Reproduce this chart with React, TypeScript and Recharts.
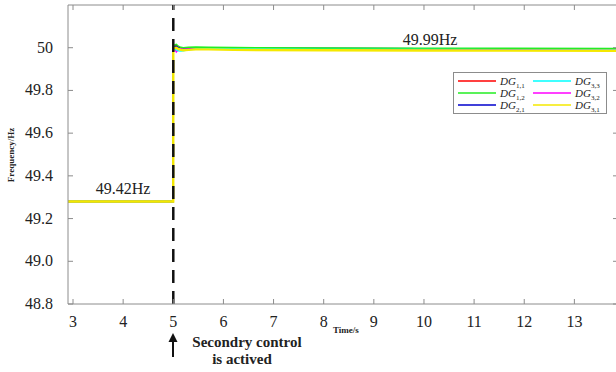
import React from "react";
import {
  LineChart,
  Line,
  XAxis,
  YAxis,
  ReferenceLine,
  ReferenceDot,
  Legend,
} from "recharts";

// time axis (s)
const time = [2.9, 4.999, 5.0, 5.03, 5.06, 5.1, 5.15, 5.2, 5.3, 5.45, 5.7, 6.2, 8, 10, 13.87];

// frequency per DG (Hz)
const dg11 = [49.28, 49.28, 50.0, 50.01, 50.012, 50.004, 49.998, 49.996, 49.998, 50.0, 50.0, 49.998, 49.996, 49.995, 49.994];
const dg12 = [49.28, 49.28, 50.0, 50.014, 50.016, 50.008, 50.002, 50.0, 50.002, 50.003, 50.002, 50.001, 49.999, 49.998, 49.997];
const dg21 = [49.28, 49.28, 49.99, 50.005, 50.008, 50.002, 49.997, 49.996, 49.998, 50.0, 50.0, 49.998, 49.996, 49.995, 49.994];
const dg33 = [49.28, 49.28, 49.99, 49.995, 49.99, 49.985, 49.984, 49.986, 49.99, 49.994, 49.996, 49.997, 49.996, 49.995, 49.994];
const dg32 = [49.28, 49.28, 49.985, 49.995, 49.98, 49.99, 49.995, 49.998, 49.999, 50.0, 50.0, 49.998, 49.996, 49.995, 49.994];
const dg31 = [49.28, 49.28, 49.995, 49.998, 50.0, 49.994, 49.99, 49.988, 49.99, 49.992, 49.992, 49.99, 49.988, 49.987, 49.986];

const xTicks = [3, 4, 5, 6, 7, 8, 9, 10, 11, 12, 13];
const yTicks = [48.8, 49.0, 49.2, 49.4, 49.6, 49.8, 50];

// legend order: two columns, three rows
const legendCol1 = [
  { key: "dg11", sub: "1,1", color: "#ff0000" },
  { key: "dg12", sub: "1,2", color: "#22ee22" },
  { key: "dg21", sub: "2,1", color: "#0000cc" },
];
const legendCol2 = [
  { key: "dg33", sub: "3,3", color: "#00ffff" },
  { key: "dg32", sub: "3,2", color: "#ff00ff" },
  { key: "dg31", sub: "3,1", color: "#f5e800" },
];

// drawing order (yellow last so it sits on top before the step)
const drawOrder = ["dg11", "dg21", "dg32", "dg33", "dg12", "dg31"];
const colors: Record<string, string> = {
  dg11: "#ff0000",
  dg12: "#22ee22",
  dg21: "#0000cc",
  dg33: "#00ffff",
  dg32: "#ff00ff",
  dg31: "#f5e800",
};

const data = time.map((t, i) => ({
  t,
  dg11: dg11[i],
  dg12: dg12[i],
  dg21: dg21[i],
  dg33: dg33[i],
  dg32: dg32[i],
  dg31: dg31[i],
}));

const W = 620;
const H = 372;
const PT = 5; // plot top
const PB = 304; // plot bottom
const PL = 68;
const PR = 618;
const axisGray = "#8c8c8c";
const serif = "'Liberation Serif', 'DejaVu Serif', serif";
const txt = { fontFamily: serif };

const XTick = (p: any) => (
  <g>
    <line x1={p.x} x2={p.x} y1={PB} y2={PB - 5} stroke={axisGray} />
    <line x1={p.x} x2={p.x} y1={PT} y2={PT + 5} stroke={axisGray} />
    <text x={p.x} y={327} textAnchor="middle" style={txt} fontSize={16} fill="#222">
      {p.payload.value}
    </text>
  </g>
);

const YTick = (p: any) => {
  const v = p.payload.value as number;
  const label = v === 50 ? "50" : v.toFixed(1);
  return (
    <g>
      <line x1={PL} x2={PL + 5} y1={p.y} y2={p.y} stroke={axisGray} />
      <line x1={PR} x2={PR - 5} y1={p.y} y2={p.y} stroke={axisGray} />
      <text x={53} y={p.y + 5} textAnchor="end" style={txt} fontSize={16} fill="#222">
        {label}
      </text>
    </g>
  );
};

const LegendItem = ({ sub, color }: { sub: string; color: string }) => (
  <div style={{ display: "flex", alignItems: "center", height: 12 }}>
    <svg width={38} height={4} style={{ display: "block" }}>
      <line x1={0} x2={38} y1={2} y2={2} stroke={color} strokeWidth={1.5} />
    </svg>
    <span style={{ marginLeft: 4, fontStyle: "italic", fontSize: 11, lineHeight: "12px" }}>
      DG<span style={{ fontSize: 7, verticalAlign: "-3px", lineHeight: 0, fontStyle: "normal" }}>{sub}</span>
    </span>
  </div>
);

const renderLegend = () => (
  <div
    style={{
      width: 148,
      height: 38,
      border: `1px solid ${axisGray}`,
      background: "#fff",
      display: "flex",
      padding: "2px 0 0 4px",
      boxSizing: "content-box",
      fontFamily: serif,
      color: "#222",
    }}
  >
    <div style={{ width: 75 }}>
      {legendCol1.map((e) => (
        <LegendItem key={e.key} sub={e.sub} color={e.color} />
      ))}
    </div>
    <div style={{ width: 71 }}>
      {legendCol2.map((e) => (
        <LegendItem key={e.key} sub={e.sub} color={e.color} />
      ))}
    </div>
  </div>
);

export default function App() {
  return (
    <div
      style={{
        position: "fixed",
        left: 0,
        top: 0,
        width: 616,
        height: 372,
        overflow: "hidden",
        background: "#fff",
        fontFamily: serif,
      }}
    >
      <LineChart
        width={W}
        height={H}
        data={data}
        margin={{ top: PT, right: W - PR, left: 0, bottom: 0 }}
        style={txt}
      >
        <XAxis
          dataKey="t"
          type="number"
          domain={[2.9, 13.87]}
          ticks={xTicks}
          allowDataOverflow
          height={H - PB}
          stroke={axisGray}
          tickLine={false}
          tick={XTick}
        />
        <YAxis
          type="number"
          domain={[48.8, 50.2]}
          ticks={yTicks}
          allowDataOverflow
          width={PL}
          stroke={axisGray}
          tickLine={false}
          tick={YTick}
        />
        <ReferenceLine y={50.2} stroke={axisGray} />
        {drawOrder.map((k) => (
          <Line
            key={k}
            dataKey={k}
            type="linear"
            stroke={colors[k]}
            strokeWidth={k === "dg31" ? 2.4 : 1.4}
            dot={false}
            isAnimationActive={false}
          />
        ))}
        <ReferenceLine x={5} stroke="#111" strokeWidth={2.5} strokeDasharray="13 8" />
        <ReferenceDot
          x={4}
          y={49.34}
          r={0}
          label={{ value: "49.42Hz", position: "center", style: txt, fontSize: 16, fill: "#222" }}
        />
        <ReferenceDot
          x={10.12}
          y={50.04}
          r={0}
          label={{ value: "49.99Hz", position: "center", style: txt, fontSize: 16, fill: "#222" }}
        />
        <Legend
          layout="horizontal"
          verticalAlign="middle"
          content={renderLegend}
          wrapperStyle={{ position: "absolute", left: 453, top: 72, width: 153, height: 41 }}
        />
      </LineChart>
      <svg
        width={616}
        height={372}
        style={{ position: "absolute", left: 0, top: 0, pointerEvents: "none", fontFamily: serif }}
      >
        <text
          x={14}
          y={155}
          transform="rotate(-90 14 155)"
          textAnchor="middle"
          fontWeight="bold"
          fontSize={9}
          fill="#222"
        >
          Frequency/Hz
        </text>
        <text x={333} y={333} fontWeight="bold" fontSize={9} fill="#222">
          Time/s
        </text>
        <line x1={173} x2={173} y1={357} y2={341} stroke="#111" strokeWidth={2} />
        <polygon points="173,333 168.5,342 177.5,342" fill="#111" />
        <text x={247} y={347} textAnchor="middle" fontWeight="bold" fontSize={15} fill="#222">
          Secondry control
        </text>
        <text x={242} y={364} textAnchor="middle" fontWeight="bold" fontSize={15} fill="#222">
          is actived
        </text>
      </svg>
    </div>
  );
}
